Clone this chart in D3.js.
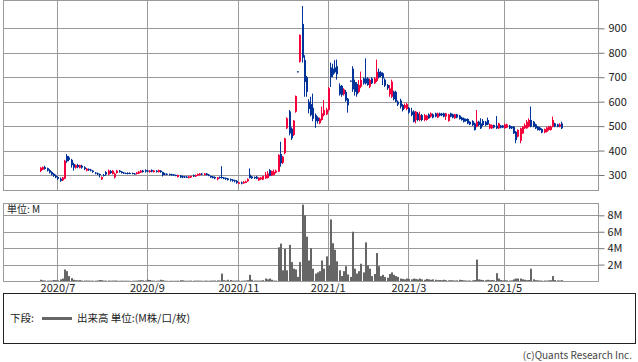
<!DOCTYPE html>
<html><head><meta charset="utf-8">
<script src="https://cdn.jsdelivr.net/npm/d3@7"></script>
<style>
body{margin:0;background:#fff;}
svg{display:block;font-family:"Noto Sans CJK JP","Noto Sans",sans-serif;}
</style>
</head><body>
<svg id="c" width="638" height="362"></svg>
<script>
// ---------- DATA ----------
const monthLabels = ["2020/7","2020/9","2020/11","2021/1","2021/3","2021/5"];
const monthStartIndex = [8,49,91,132,169,213];
const priceTicks = [300,400,500,600,700,800,900];
const volumeTicks = [2,4,6,8];
const volumeTickLabels = ["2M","4M","6M","8M"];

const open = [
316,322,332,328,320,312,305,298,292,285,
278,285,378,372,362,345,330,341,330,338,
332,318,324,322,318,310,307,304,282,300,
312,302,316,305,290,308,318,314,310,308,
308,308,308,306,304,306,310,318,320,318,
312,320,312,318,312,318,312,306,305,304,
303,302,300,292,298,295,294,293,288,290,
300,294,298,300,306,300,306,302,296,294,
292,283,292,292,290,288,286,283,281,279,
276,264,270,266,268,274,302,294,292,293,
278,282,281,286,288,320,298,300,310,314,
386,350,389,491,560,490,464,559,724,763,
918,770,700,600,590,575,545,535,512,525,
545,548,566,740,735,740,745,665,665,630,
640,612,686,735,680,672,640,661,695,695,
695,661,695,675,685,722,720,716,690,668,
630,620,641,640,600,605,586,575,570,575,
560,560,525,552,525,545,525,525,548,539,
548,552,535,552,551,552,539,521,552,548,
532,548,543,535,532,529,529,518,521,511,
498,518,511,521,518,525,491,491,504,502,
491,502,502,491,494,502,498,498,477,457,
440,470,491,491,498,525,518,507,498,494,
488,474,477,484,484,498,511,507,498,511];
const high = [
332,335,338,330,324,316,308,302,295,290,
292,362,386,378,366,350,343,346,342,342,
336,328,327,325,320,312,310,306,294,304,
316,322,320,320,310,321,320,316,312,310,
311,311,310,308,312,316,320,321,323,321,
320,323,320,320,322,320,314,309,307,306,
305,304,302,302,300,297,296,296,296,298,
302,302,306,308,308,308,308,304,298,296,
294,292,294,336,292,290,288,286,283,281,
279,272,273,275,277,286,327,296,294,296,
290,292,298,312,316,324,318,322,322,385,
436,378,452,536,566,495,525,625,724,875,
991,790,705,610,620,633,552,540,535,580,
607,575,660,760,755,770,772,675,668,655,
648,615,686,745,690,680,688,723,698,777,
700,695,700,700,772,735,725,720,695,672,
668,690,645,645,605,612,590,592,595,578,
575,565,562,558,559,550,550,546,552,556,
552,555,555,555,554,555,554,550,555,551,
550,550,546,538,535,531,532,520,524,514,
566,522,532,529,521,535,510,507,506,541,
514,505,504,510,510,505,500,500,480,487,
494,500,511,525,532,580,521,510,500,497,
491,490,497,501,502,539,514,510,512,518];
const low = [
312,320,322,314,306,298,292,287,280,272,
276,283,350,356,330,318,326,328,327,326,
320,315,317,315,309,303,300,290,280,294,
298,300,305,302,286,306,310,306,304,304,
303,304,303,302,302,304,308,310,310,312,
310,311,310,310,310,309,294,299,299,298,
297,296,295,290,288,287,288,288,286,288,
292,292,296,298,299,298,298,295,288,286,
283,278,285,285,283,280,277,274,272,270,
264,262,262,264,267,272,286,284,284,283,
276,280,279,284,286,295,296,298,306,312,
334,345,385,488,462,443,460,555,720,760,
760,620,620,552,540,520,493,510,508,522,
540,545,560,660,700,715,690,625,620,625,
600,555,682,640,625,620,635,655,670,670,
665,655,672,672,680,695,700,668,660,648,
620,615,605,598,582,572,560,570,565,550,
540,515,511,520,520,520,520,522,530,535,
532,536,533,540,541,536,525,518,536,532,
530,532,527,522,515,518,508,504,500,482,
495,500,488,500,501,504,488,488,491,488,
488,491,492,489,492,488,488,468,430,454,
430,468,489,489,495,495,495,488,482,481,
471,471,474,481,482,495,495,495,495,488];
const close = [
330,332,325,318,310,302,296,290,284,276,
290,358,356,362,340,330,340,332,340,330,
324,326,320,318,312,306,302,300,292,298,
302,318,308,318,305,318,312,308,306,306,
305,306,305,304,310,314,318,312,314,316,
318,314,318,313,320,312,300,302,301,300,
299,298,297,300,290,290,290,290,294,296,
294,300,304,305,302,306,300,297,290,288,
286,290,288,288,285,283,280,278,276,274,
268,270,265,272,274,283,288,287,287,285,
289,290,296,302,306,297,316,313,318,382,
348,375,450,532,470,450,522,623,720,873,
780,680,640,570,545,530,520,520,530,552,
566,568,655,700,710,720,712,630,628,650,
605,585,682,650,640,630,668,689,675,675,
668,689,675,695,722,700,705,695,665,655,
654,682,610,600,588,580,566,586,590,555,
545,518,559,525,545,525,545,543,532,552,
535,539,552,543,544,539,552,548,539,535,
548,535,529,525,518,521,511,507,504,484,
518,504,491,504,504,507,507,504,494,491,
511,494,494,507,507,491,491,470,443,484,
491,498,504,518,525,498,498,491,484,484,
474,488,494,498,498,525,498,498,507,491];
const volume = [
0.15,0.08,0.06,0.05,0.05,0.06,0.12,0.1,0.08,0.2,
0.3,1.4,1.2,0.6,0.35,0.15,0.1,0.08,0.1,0.06,
0.06,0.05,0.05,0.04,0.04,0.05,0.06,0.12,0.1,0.05,
0.05,0.06,0.04,0.05,0.06,0.05,0.04,0.04,0.03,0.04,
0.03,0.03,0.04,0.04,0.05,0.08,0.1,0.08,0.06,0.15,
0.12,0.06,0.05,0.04,0.05,0.15,0.1,0.04,0.03,0.03,
0.03,0.03,0.03,0.04,0.1,0.08,0.04,0.03,0.04,0.05,
0.04,0.05,0.05,0.04,0.04,0.05,0.04,0.03,0.05,0.05,
0.06,0.08,0.06,0.9,0.1,0.06,0.15,0.12,0.05,0.05,
0.06,0.05,0.04,0.05,0.06,0.1,0.75,0.15,0.06,0.05,
0.05,0.05,0.1,0.3,0.2,0.3,0.15,0.05,0.05,4.1,
4.55,1.3,3.9,1.3,4.4,2.3,1.5,1.4,0.5,2.3,
9.3,8.0,5.4,2.5,4.0,1.5,0.9,1.05,1.2,2.5,
1.5,3.0,1.9,7.5,4.6,3.8,2.4,1.3,0.6,1.2,
1.8,0.8,0.5,6.0,1.5,0.9,1.2,2.1,1.05,4.7,
1.9,1.5,0.6,0.85,3.4,1.8,0.6,0.75,0.5,0.4,
0.85,1.05,0.75,0.6,0.5,0.3,0.25,0.2,0.3,0.25,
0.2,0.3,0.25,0.2,0.3,0.2,0.15,0.25,0.2,0.15,
0.2,0.15,0.1,0.12,0.1,0.15,0.1,0.08,0.1,0.08,
0.06,0.08,0.15,0.12,0.08,0.06,0.05,0.06,0.08,0.12,
2.6,0.2,0.15,0.12,0.1,0.15,0.1,0.12,0.1,0.95,
0.3,0.12,0.08,0.1,0.08,0.06,0.08,0.2,0.3,0.3,
0.3,0.2,0.15,0.1,0.12,1.5,0.2,0.1,0.08,0.06,
0.05,0.06,0.05,0.08,0.1,0.6,0.12,0.08,0.06,0.1];

// ---------- LAYOUT ----------
const svg = d3.select("#c");
const plotL = 3, plotR = 598;
const priceTop = 0, priceBottom = 190;
const volTop = 203, volBottom = 281;
const gridColor = "#9a9a9a";
const upColor = "#f5003d", downColor = "#003399", volColor = "#666666";
const crisp = v => Math.round(v) + 0.5;

const bars = open.map((o, i) => ({i, o, h: high[i], l: low[i], c: close[i], v: volume[i]}));

const x = d3.scaleLinear().domain([-17, 256]).range([plotL, plotR]);
const yP = d3.scaleLinear().domain([238.7, 1015.8]).range([priceBottom, priceTop]);
const yV = d3.scaleLinear().domain([0, 9.5]).range([volBottom, volTop]);

svg.append("rect").attr("width", 638).attr("height", 362).attr("fill", "#fff");

function panelGrid(g, yScale, ticks, top, bottom) {
  g.selectAll(".hg").data(ticks).join("line").attr("class", "hg")
    .attr("x1", plotL).attr("x2", plotR)
    .attr("y1", d => crisp(yScale(d))).attr("y2", d => crisp(yScale(d)))
    .attr("stroke", gridColor).attr("stroke-width", 1);
  g.selectAll(".vg").data(monthStartIndex).join("line").attr("class", "vg")
    .attr("x1", d => crisp(x(d))).attr("x2", d => crisp(x(d)))
    .attr("y1", top).attr("y2", bottom)
    .attr("stroke", gridColor).attr("stroke-width", 1);
  g.append("rect").attr("x", plotL + 0.5).attr("y", top + 0.5)
    .attr("width", plotR - plotL).attr("height", bottom - top)
    .attr("fill", "none").attr("stroke", gridColor).attr("stroke-width", 1);
}

// price panel
const gP = svg.append("g");
panelGrid(gP, yP, priceTicks, priceTop, priceBottom);

const candles = svg.append("g");
candles.selectAll(".wick").data(bars).join("line").attr("class", "wick")
  .attr("x1", d => Math.round(x(d.i)) + 0.5).attr("x2", d => Math.round(x(d.i)) + 0.5)
  .attr("y1", d => yP(d.h)).attr("y2", d => yP(d.l))
  .attr("stroke", d => d.c > d.o ? upColor : downColor).attr("stroke-width", 1);
candles.selectAll(".body").data(bars).join("rect").attr("class", "body")
  .attr("x", d => Math.round(x(d.i)))
  .attr("width", 2)
  .attr("y", d => Math.min(yP(d.o), yP(d.c)))
  .attr("height", d => Math.max(1, Math.abs(yP(d.o) - yP(d.c))))
  .attr("fill", d => d.c > d.o ? upColor : downColor);

// price axis (right)
const axP = svg.append("g").attr("transform", `translate(${plotR + 0.5},0)`)
  .call(d3.axisRight(yP).tickValues(priceTicks).tickSize(6).tickPadding(4));
axP.select(".domain").remove();
axP.selectAll(".tick line").attr("stroke", "#777");
axP.selectAll(".tick text").attr("font-size", 11).attr("fill", "#222")
  .attr("font-family", '"Noto Sans CJK JP","Noto Sans",sans-serif');

// volume panel
const gV = svg.append("g");
panelGrid(gV, yV, volumeTicks, volTop, volBottom);

svg.append("g").selectAll("rect").data(bars).join("rect")
  .attr("x", d => Math.round(x(d.i)))
  .attr("width", 2)
  .attr("y", d => yV(d.v))
  .attr("height", d => yV(0) - yV(d.v))
  .attr("fill", volColor);

const axV = svg.append("g").attr("transform", `translate(${plotR + 0.5},0)`)
  .call(d3.axisRight(yV).tickValues(volumeTicks).tickSize(6).tickPadding(3)
    .tickFormat((d, i) => volumeTickLabels[i]));
axV.select(".domain").remove();
axV.selectAll(".tick line").attr("stroke", "#777");
axV.selectAll(".tick text").attr("font-size", 11).attr("fill", "#222")
  .attr("font-family", '"Noto Sans CJK JP","Noto Sans",sans-serif');

svg.append("text").attr("x", 7).attr("y", 213).attr("font-size", 10).attr("fill", "#222")
  .text("単位: M");

// x axis labels
const axX = svg.append("g").attr("transform", `translate(0,${volBottom})`)
  .call(d3.axisBottom(x).tickValues(monthStartIndex).tickSize(0).tickPadding(3)
    .tickFormat((d, i) => monthLabels[i]));
axX.select(".domain").remove();
axX.selectAll(".tick text").attr("font-size", 11).attr("fill", "#222")
  .attr("font-family", '"Noto Sans CJK JP","Noto Sans",sans-serif');

// legend box
svg.append("rect").attr("x", 3.5).attr("y", 293.5).attr("width", 632).attr("height", 50)
  .attr("fill", "none").attr("stroke", "#222").attr("stroke-width", 1);
svg.append("text").attr("x", 10).attr("y", 322).attr("font-size", 10.5).attr("fill", "#222").text("下段:");
svg.append("line").attr("x1", 42).attr("x2", 72).attr("y1", 318.5).attr("y2", 318.5)
  .attr("stroke", volColor).attr("stroke-width", 3);
svg.append("text").attr("x", 77).attr("y", 322).attr("font-size", 10.5).attr("fill", "#222")
  .text("出来高 単位:(M株/口/枚)");

// footer
svg.append("text").attr("x", 632).attr("y", 359).attr("text-anchor", "end")
  .attr("font-size", 10).attr("fill", "#444").text("(c)Quants Research Inc.");
</script>
</body></html>
